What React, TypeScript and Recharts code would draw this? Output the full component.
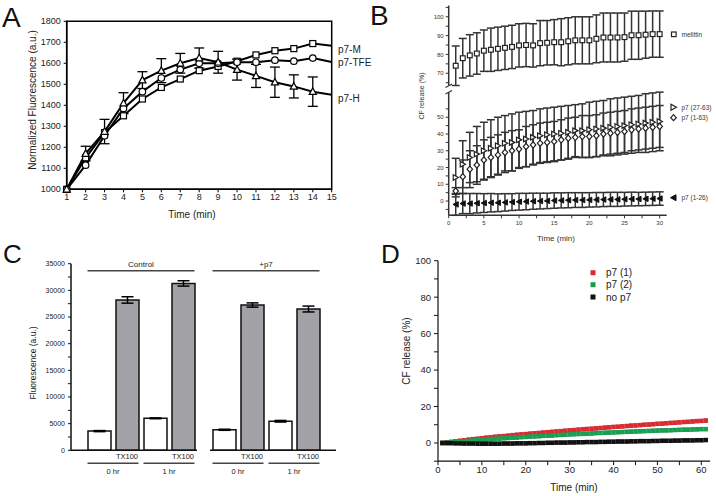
import React from 'react';
import {
  LineChart, Line, XAxis, YAxis, ErrorBar, ReferenceArea, BarChart, Bar, Cell, ReferenceLine,
} from 'recharts';

const FONT = '"Liberation Sans", Arial, Helvetica, sans-serif';

// ---------- Panel A ----------
const aTime = [1, 2, 3, 4, 5, 6, 7, 8, 9, 10, 11, 12, 13, 14, 15];
const aP7M = [1000, 1150, 1270, 1350, 1430, 1485, 1525, 1565, 1585, 1610, 1640, 1660, 1670, 1694, 1684];
const aP7TFE = [1000, 1115, 1255, 1385, 1465, 1530, 1570, 1600, 1600, 1605, 1605, 1615, 1610, 1625, 1606];
const aP7H = [1000, 1170, 1275, 1410, 1520, 1565, 1600, 1625, 1605, 1570, 1540, 1510, 1490, 1465, 1450];
const aP7HErr = [0, 35, 58, 50, 40, 57, 47, 48, 52, 50, 55, 72, 55, 70, 0];
const aYTicks = [1000, 1100, 1200, 1300, 1400, 1500, 1600, 1700, 1800];

// ---------- Panel B ----------
const bTime = [1, 2, 3, 4, 5, 6, 7, 8, 9, 10, 11, 12, 13, 14, 15, 16, 17, 18, 19, 20, 21, 22, 23, 24, 25, 26, 27, 28, 29, 30];
const bMelittin = [74, 78, 79.5, 80.5, 82, 82.5, 83, 83.5, 84, 84.8, 85, 84.8, 86, 86.2, 86.5, 86.5, 87, 87.5, 87.5, 87.5, 88.3, 89, 89, 89, 89.2, 90.2, 90.2, 90.5, 90.8, 90.8];
const bMelittinErr = [10.5, 10.5, 11, 11, 11, 11.5, 11.5, 11.5, 11.5, 11.5, 11.5, 11.5, 12, 11.8, 12, 12.5, 12.5, 12.5, 12.5, 12.5, 12.7, 13, 13, 13, 12.8, 12.8, 12.8, 12.5, 12.3, 12.3];
const bP7_27_63 = [14, 22, 26, 28, 30, 31.5, 33, 34.5, 35, 36.5, 37, 38, 39, 39.5, 40, 40.5, 41, 42, 42, 42.5, 43, 43.5, 44, 44.5, 45, 45.5, 46, 46.5, 47, 47.5];
const bP7_27_63Err = [11.5, 14, 15, 16.5, 17, 17, 17, 16.5, 17, 16.5, 16.5, 16, 16, 16, 16, 16, 16, 15.5, 16, 16.5, 16.5, 16.5, 17, 17, 17, 17, 17, 17.5, 17.5, 17.5];
const bP7_1_63 = [6, 14.5, 19, 21.5, 24.5, 26, 27.5, 29, 30, 31, 32.5, 33.5, 34.5, 35, 35.5, 36.5, 37.5, 38, 38.5, 38.5, 39, 40, 40.5, 41, 41.5, 42.5, 43, 43.5, 44, 44.5];
const bP7_1_63Err = [2, 10, 11, 11.5, 12, 12, 12, 12, 12, 11.5, 12, 12, 12, 12, 12, 12, 12, 12, 12.5, 12.5, 12.5, 12.5, 12.5, 12.5, 12.5, 12.5, 12.5, 12.5, 12.5, 12.5];
const bP7_1_26 = [-2, -1.5, -1.5, -1.3, -1.2, -1, -1, -0.8, -0.6, -0.4, -0.3, -0.1, 0, 0.1, 0.3, 0.4, 0.5, 0.6, 0.6, 0.7, 0.8, 0.9, 1, 1, 1.1, 1.2, 1.2, 1.3, 1.4, 1.5];
const bP7_1_26Err = [6.5, 6, 6, 5.8, 5.6, 5.5, 5.3, 5.2, 5, 5, 4.9, 4.8, 4.7, 4.6, 4.6, 4.5, 4.5, 4.4, 4.4, 4.3, 4.3, 4.2, 4.2, 4.2, 4.1, 4.1, 4, 4, 4, 4];
const bXTicks = [0, 2.5, 5, 7.5, 10, 12.5, 15, 17.5, 20, 22.5, 25, 27.5, 30];
const bUpperTicks = [65, 70, 75, 80, 85, 90, 95, 100, 105];
const bLowerTicks = [-5, 0, 5, 10, 15, 20, 25, 30, 35, 40, 45, 50, 55];

// ---------- Panel C ----------
const cCategories = ['0 hr', '0 hr TX100', '1 hr', '1 hr TX100'];
const cTreated = [false, true, false, true];
const cControl = [3600, 28200, 6000, 31300];
const cControlErr = [100, 600, 80, 500];
const cP7 = [3850, 27250, 5450, 26500];
const cP7Err = [100, 400, 150, 550];
const cYTicks = [0, 2500, 5000, 7500, 10000, 12500, 15000, 17500, 20000, 22500, 25000, 27500, 30000, 32500, 35000];

// ---------- Panel D ----------
const dTime = [1, 2, 3, 4, 5, 6, 7, 8, 9, 10, 11, 12, 13, 14, 15, 16, 17, 18, 19, 20, 21, 22, 23, 24, 25, 26, 27, 28, 29, 30, 31, 32, 33, 34, 35, 36, 37, 38, 39, 40, 41, 42, 43, 44, 45, 46, 47, 48, 49, 50, 51, 52, 53, 54, 55, 56, 57, 58, 59, 60, 61];
const dP7One = [0.0, 0.3, 0.6, 0.9, 1.2, 1.5, 1.8, 2.1, 2.3, 2.6, 2.9, 3.1, 3.4, 3.6, 3.8, 4.0, 4.3, 4.5, 4.7, 4.9, 5.1, 5.3, 5.5, 5.7, 5.9, 6.1, 6.3, 6.5, 6.7, 6.9, 7.1, 7.3, 7.5, 7.7, 7.8, 8.0, 8.2, 8.4, 8.6, 8.8, 8.9, 9.1, 9.3, 9.5, 9.6, 9.8, 10.0, 10.1, 10.3, 10.5, 10.6, 10.8, 11.0, 11.1, 11.3, 11.5, 11.6, 11.8, 12.0, 12.1, 12.3];
const dP7Two = [0.0, 0.2, 0.4, 0.6, 0.8, 1.0, 1.2, 1.4, 1.6, 1.8, 1.9, 2.1, 2.3, 2.4, 2.6, 2.7, 2.9, 3.0, 3.2, 3.3, 3.5, 3.6, 3.7, 3.9, 4.0, 4.1, 4.3, 4.4, 4.5, 4.7, 4.8, 4.9, 5.0, 5.1, 5.2, 5.4, 5.5, 5.6, 5.7, 5.8, 5.9, 6.0, 6.1, 6.2, 6.3, 6.4, 6.5, 6.6, 6.7, 6.8, 6.9, 6.9, 7.0, 7.1, 7.2, 7.3, 7.3, 7.4, 7.5, 7.6, 7.6];
const dNoP7 = [0.0, -0.1, -0.1, -0.2, -0.2, -0.3, -0.3, -0.3, -0.4, -0.4, -0.4, -0.4, -0.4, -0.4, -0.3, -0.3, -0.3, -0.2, -0.2, -0.2, -0.1, -0.1, 0.0, 0.0, 0.1, 0.1, 0.2, 0.2, 0.2, 0.3, 0.3, 0.4, 0.4, 0.5, 0.5, 0.5, 0.6, 0.6, 0.7, 0.7, 0.8, 0.8, 0.8, 0.9, 0.9, 1.0, 1.0, 1.0, 1.1, 1.1, 1.2, 1.2, 1.2, 1.3, 1.3, 1.4, 1.4, 1.4, 1.5, 1.5, 1.6];
const dErr = 0.8;
const dXTicks = [0, 5, 10, 15, 20, 25, 30, 35, 40, 45, 50, 55, 60];
const dYTicks = [-10, 0, 10, 20, 30, 40, 50, 60, 70, 80, 90, 100];

const RED = '#dc2a30';
const GREEN = '#17a052';

// ---------- rows ----------
const aRows = aTime.map((t, i) => ({ t, m: aP7M[i], tfe: aP7TFE[i], h: aP7H[i], hErr: aP7HErr[i] }));
const bRows = bTime.map((t, i) => ({
  t,
  mel: bMelittin[i], melErr: bMelittinErr[i],
  tri: bP7_27_63[i], triErr: bP7_27_63Err[i],
  dia: bP7_1_63[i], diaErr: bP7_1_63Err[i],
  lt: bP7_1_26[i], ltErr: bP7_1_26Err[i],
}));
const cLeftRows = cCategories.map((c, i) => ({ cat: c, v: cControl[i], err: cControlErr[i], tx: cTreated[i] }));
const cRightRows = cCategories.map((c, i) => ({ cat: c, v: cP7[i], err: cP7Err[i], tx: cTreated[i] }));
const dRows = dTime.map((t, i) => ({ t, a: dP7One[i], b: dP7Two[i], c: dNoP7[i], err: dErr }));

type Kind = 'square' | 'circle' | 'triUp' | 'triRight' | 'triLeft' | 'diamond';
const shapeDot = (kind: Kind, size: number, fill: string, stroke: string, sw: number, skipFrom?: number) => (props: any) => {
  const { cx, cy, index } = props;
  const key = `${kind}-${fill}-${index}`;
  if (cx == null || cy == null || (skipFrom != null && index >= skipFrom)) return <g key={key} />;
  const h = size / 2;
  const common = { fill, stroke, strokeWidth: sw };
  switch (kind) {
    case 'square':
      return <rect key={key} x={cx - h} y={cy - h} width={size} height={size} {...common} />;
    case 'circle':
      return <circle key={key} cx={cx} cy={cy} r={h} {...common} />;
    case 'triUp':
      return <polygon key={key} points={`${cx},${cy - h * 1.15} ${cx - h * 1.1},${cy + h * 0.85} ${cx + h * 1.1},${cy + h * 0.85}`} {...common} />;
    case 'triRight':
      return <polygon key={key} points={`${cx + h * 1.1},${cy} ${cx - h},${cy - h * 1.1} ${cx - h},${cy + h * 1.1}`} {...common} />;
    case 'triLeft':
      return <polygon key={key} points={`${cx - h * 1.1},${cy} ${cx + h},${cy - h * 1.1} ${cx + h},${cy + h * 1.1}`} {...common} />;
    case 'diamond':
    default:
      return <polygon key={key} points={`${cx},${cy - h * 1.15} ${cx + h},${cy} ${cx},${cy + h * 1.15} ${cx - h},${cy}`} {...common} />;
  }
};

const extendedLine = (ext: number) => (props: any) => {
  const { x1, y1, x2, y2 } = props;
  return <line x1={x1 - ext} y1={y1} x2={x2 + ext} y2={y2} stroke="#444" strokeWidth={1.6} />;
};

const abs = (left: number, top: number): React.CSSProperties => ({ position: 'absolute', left, top });

function PanelA() {
  const tick = { fill: '#222', fontSize: 9, fontFamily: FONT };
  return (
    <div style={abs(0, 0)}>
      <LineChart width={358} height={248} data={aRows} margin={{ top: 21.3, right: 26.3, bottom: 38.7, left: 0 }}>
        <ReferenceArea x1={1} x2={15} y1={1000} y2={1800} fill="none" stroke="#000" strokeWidth={1.5} ifOverflow="visible" />
        <XAxis type="number" dataKey="t" domain={[1, 15]} ticks={aTime} height={20} tick={tick} tickSize={3} tickMargin={1}
          axisLine={{ stroke: '#000', strokeWidth: 1.5 }} tickLine={{ stroke: '#000' }} interval={0} />
        <YAxis type="number" domain={[1000, 1800]} ticks={aYTicks} width={66.7} tick={tick} tickSize={3} tickMargin={3}
          axisLine={{ stroke: '#000', strokeWidth: 1.5 }} tickLine={{ stroke: '#000' }} interval={0} />
        <Line dataKey="m" stroke="#000" strokeWidth={2} isAnimationActive={false} dot={shapeDot('square', 6, '#fff', '#000', 1.2, 14)} />
        <Line dataKey="tfe" stroke="#000" strokeWidth={2} isAnimationActive={false} dot={shapeDot('circle', 6.5, '#fff', '#000', 1.2, 14)} />
        <Line dataKey="h" stroke="#000" strokeWidth={2} isAnimationActive={false} dot={shapeDot('triUp', 6.5, '#fff', '#000', 1.2, 14)}>
          <ErrorBar dataKey="hErr" width={5} strokeWidth={1.3} stroke="#000" direction="y" />
        </Line>
      </LineChart>
    </div>
  );
}

function PanelB() {
  const tick = { fill: '#333', fontSize: 6, fontFamily: FONT };
  const axisLine = { stroke: '#333', strokeWidth: 1.5 };
  const tickLine = { stroke: '#333', strokeWidth: 1 };
  const eb = { width: 4, strokeWidth: 1.5, stroke: '#333' };
  return (
    <>
      <div style={abs(358, 0)}>
        <LineChart width={358} height={248} data={bRows} margin={{ top: 5.5, right: 49.3, bottom: 162.5, left: 0 }}>
          <XAxis type="number" dataKey="t" domain={[0, 31]} hide />
          <YAxis type="number" domain={[65, 106]} ticks={bUpperTicks} width={90.7} tick={tick} tickSize={3} tickMargin={2}
            axisLine={axisLine} tickLine={tickLine} interval={0} tickFormatter={(v: number) => (v % 10 === 0 ? String(v) : '')} />
          <Line dataKey="mel" stroke="none" isAnimationActive={false} dot={shapeDot('square', 4.8, '#fff', '#222', 1.2)}>
            <ErrorBar dataKey="melErr" direction="y" {...eb} />
          </Line>
        </LineChart>
      </div>
      <div style={abs(358, 0)}>
        <LineChart width={358} height={248} data={bRows} margin={{ top: 92.1, right: 49.3, bottom: 0, left: 0 }}>
          <XAxis type="number" dataKey="t" domain={[0, 31]} ticks={bXTicks} height={32.7} tick={tick} tickSize={3} tickMargin={2}
            axisLine={axisLine} tickLine={tickLine} interval={0} tickFormatter={(v: number) => (v % 5 === 0 ? String(v) : '')} />
          <YAxis type="number" domain={[-7, 58]} ticks={bLowerTicks} width={90.7} tick={tick} tickSize={3} tickMargin={2}
            axisLine={axisLine} tickLine={tickLine} interval={0} tickFormatter={(v: number) => (v % 10 === 0 ? String(v) : '')} />
          <Line dataKey="tri" stroke="none" isAnimationActive={false} dot={shapeDot('triRight', 5, '#fff', '#222', 1.2)}>
            <ErrorBar dataKey="triErr" direction="y" {...eb} />
          </Line>
          <Line dataKey="dia" stroke="none" isAnimationActive={false} dot={shapeDot('diamond', 5.5, '#fff', '#222', 1.2)}>
            <ErrorBar dataKey="diaErr" direction="y" {...eb} />
          </Line>
          <Line dataKey="lt" stroke="none" isAnimationActive={false} dot={shapeDot('triLeft', 5, '#111', '#111', 1)}>
            <ErrorBar dataKey="ltErr" direction="y" {...eb} />
          </Line>
        </LineChart>
      </div>
    </>
  );
}

function PanelC() {
  const tick = { fill: '#222', fontSize: 7, fontFamily: FONT };
  const xTick = { fill: '#222', fontSize: 7.5, fontFamily: FONT };
  const axisLine = { stroke: '#111', strokeWidth: 1.5 };
  const lblTop = (value: string) => ({ value, position: 'top' as const, offset: 4, fontSize: 8, fill: '#222', fontFamily: FONT });
  const lblBottom = (value: string) => ({ value, position: 'bottom' as const, offset: 5, fontSize: 7.5, fill: '#222', fontFamily: FONT });
  const txFormatter = (v: string) => (v.indexOf('TX100') >= 0 ? 'TX100' : '');
  const bars = (rows: any[]) => (
    <Bar dataKey="v" barSize={23} stroke="#111" strokeWidth={1.5} isAnimationActive={false}>
      {rows.map((r, i) => <Cell key={i} fill={r.tx ? '#a3a3a7' : '#ffffff'} />)}
      <ErrorBar dataKey="err" width={6} strokeWidth={1.5} stroke="#000" direction="y" />
    </Bar>
  );
  const underlines = () => (
    <>
      <ReferenceLine segment={[{ x: '0 hr', y: -2440 }, { x: '0 hr TX100', y: -2440 }]} ifOverflow="visible"
        shape={extendedLine(11.5)} label={lblBottom('0 hr')} />
      <ReferenceLine segment={[{ x: '1 hr', y: -2440 }, { x: '1 hr TX100', y: -2440 }]} ifOverflow="visible"
        shape={extendedLine(11.5)} label={lblBottom('1 hr')} />
    </>
  );
  return (
    <>
      <div style={abs(0, 248)}>
        <BarChart width={358} height={248} data={cLeftRows} margin={{ top: 15.7, right: 161, bottom: 0, left: 0 }}>
          <XAxis dataKey="cat" type="category" height={45.7} padding={{ left: 14, right: 0 }} tick={xTick} tickSize={0} tickMargin={3}
            tickLine={false} axisLine={axisLine} interval={0} tickFormatter={txFormatter} />
          <YAxis type="number" domain={[0, 35000]} ticks={cYTicks} width={71} tick={tick} tickSize={3} tickMargin={3}
            axisLine={axisLine} tickLine={{ stroke: '#111' }} interval={0} tickFormatter={(v: number) => (v % 5000 === 0 ? String(v) : '')} />
          {bars(cLeftRows)}
          <ReferenceLine segment={[{ x: '0 hr', y: 33690 }, { x: '1 hr TX100', y: 33690 }]} ifOverflow="visible"
            shape={extendedLine(11.5)} label={lblTop('Control')} />
          {underlines()}
        </BarChart>
      </div>
      <div style={abs(0, 248)}>
        <BarChart width={358} height={248} data={cRightRows} margin={{ top: 15.7, right: 22, bottom: 0, left: 210 }}>
          <XAxis dataKey="cat" type="category" height={45.7} padding={{ left: 0, right: 14 }} tick={xTick} tickSize={0} tickMargin={3}
            tickLine={false} axisLine={axisLine} interval={0} tickFormatter={txFormatter} />
          <YAxis type="number" domain={[0, 35000]} hide />
          {bars(cRightRows)}
          <ReferenceLine segment={[{ x: '0 hr', y: 33690 }, { x: '1 hr TX100', y: 33690 }]} ifOverflow="visible"
            shape={extendedLine(11.5)} label={lblTop('+p7')} />
          {underlines()}
        </BarChart>
      </div>
    </>
  );
}

function PanelD() {
  const tick = { fill: '#222', fontSize: 9.5, fontFamily: FONT };
  const axisLine = { stroke: '#111', strokeWidth: 1.2 };
  const eb = { width: 2, strokeWidth: 0.8, stroke: '#111' };
  return (
    <div style={abs(358, 248)}>
      <LineChart width={358} height={248} data={dRows} margin={{ top: 12.7, right: 5.9, bottom: 0, left: 0 }}>
        <XAxis type="number" dataKey="t" domain={[0, 62]} ticks={dXTicks} height={34.8} tick={tick} tickSize={4} tickMargin={1}
          axisLine={axisLine} tickLine={{ stroke: '#111' }} interval={0} tickFormatter={(v: number) => (v % 10 === 0 ? String(v) : '')} />
        <YAxis type="number" domain={[-10, 100]} ticks={dYTicks} width={80} tick={tick} tickSize={4} tickMargin={3}
          axisLine={axisLine} tickLine={{ stroke: '#111' }} interval={0} tickFormatter={(v: number) => (v % 20 === 0 ? String(v) : '')} />
        <Line dataKey="a" stroke="none" isAnimationActive={false} dot={shapeDot('square', 4.5, RED, 'none', 0)}>
          <ErrorBar dataKey="err" direction="y" {...eb} />
        </Line>
        <Line dataKey="b" stroke="none" isAnimationActive={false} dot={shapeDot('square', 4.5, GREEN, 'none', 0)}>
          <ErrorBar dataKey="err" direction="y" {...eb} />
        </Line>
        <Line dataKey="c" stroke="none" isAnimationActive={false} dot={shapeDot('square', 4.5, '#111', 'none', 0)}>
          <ErrorBar dataKey="err" direction="y" {...eb} />
        </Line>
      </LineChart>
    </div>
  );
}

function Overlay() {
  const t = { fontFamily: FONT, fill: '#111' };
  return (
    <svg width={716} height={496} style={{ position: 'absolute', left: 0, top: 0, pointerEvents: 'none' }}>
      {/* panel letters */}
      <text x={2} y={27} fontSize={28} {...t}>A</text>
      <text x={370} y={25} fontSize={28} {...t}>B</text>
      <text x={3} y={263} fontSize={26} {...t}>C</text>
      <text x={381} y={263} fontSize={26} {...t}>D</text>

      {/* Panel A texts */}
      <text x={0} y={0} fontSize={10} textAnchor="middle" dominantBaseline="central" transform="translate(32,100) rotate(-90)" {...t} fill="#222">Normalized Fluorescence (a.u.)</text>
      <text x={192} y={217.5} fontSize={10} textAnchor="middle" {...t} fill="#222">Time (min)</text>
      <text x={338} y={52.5} fontSize={10} {...t} fill="#222">p7-M</text>
      <text x={338} y={66} fontSize={10} {...t} fill="#222">p7-TFE</text>
      <text x={338} y={101.5} fontSize={10} {...t} fill="#222">p7-H</text>

      {/* Panel B texts & key */}
      <text x={0} y={0} fontSize={7} textAnchor="middle" dominantBaseline="central" transform="translate(421,96) rotate(-90)" {...t} fill="#333">CF release (%)</text>
      <text x={556} y={241} fontSize={8} textAnchor="middle" {...t} fill="#333">Time (min)</text>
      <line x1={445.5} y1={87.5} x2={452} y2={84} stroke="#333" strokeWidth={1.2} />
      <line x1={445.5} y1={94} x2={452} y2={90.5} stroke="#333" strokeWidth={1.2} />
      <rect x={671.5} y={32} width={4.6} height={4.6} fill="#fff" stroke="#222" strokeWidth={1.2} />
      <text x={681.5} y={36.5} fontSize={6.5} {...t} fill="#333">melittin</text>
      <polygon points="676.5,107.3 671,104.3 671,110.3" fill="#fff" stroke="#222" strokeWidth={1.2} />
      <text x={681.5} y={109.8} fontSize={6.5} {...t} fill="#333">p7 (27-63)</text>
      <polygon points="673.5,114.7 676.3,117.7 673.5,120.7 670.7,117.7" fill="#fff" stroke="#222" strokeWidth={1.2} />
      <text x={681.5} y={120.2} fontSize={6.5} {...t} fill="#333">p7 (1-63)</text>
      <polygon points="670.5,197.7 676,194.7 676,200.7" fill="#111" stroke="#111" strokeWidth={1} />
      <text x={681.5} y={200.2} fontSize={6.5} {...t} fill="#333">p7 (1-26)</text>

      {/* Panel C texts */}
      <text x={0} y={0} fontSize={8.5} textAnchor="middle" dominantBaseline="central" transform="translate(33,363) rotate(-90)" {...t} fill="#222">Fluorescence (a.u.)</text>

      {/* Panel D texts & legend */}
      <text x={0} y={0} fontSize={10} textAnchor="middle" dominantBaseline="central" transform="translate(406,351) rotate(-90)" {...t} fill="#222">CF release (%)</text>
      <text x={574} y={490.5} fontSize={10} textAnchor="middle" {...t} fill="#222">Time (min)</text>
      <rect x={590.5} y={270.2} width={5} height={5} fill={RED} />
      <text x={606} y={276} fontSize={10} {...t} fill="#222">p7 (1)</text>
      <rect x={590.5} y={282.2} width={5} height={5} fill={GREEN} />
      <text x={606} y={288} fontSize={10} {...t} fill="#222">p7 (2)</text>
      <rect x={590.5} y={294.5} width={5} height={5} fill="#111" />
      <text x={606} y={300.5} fontSize={10} {...t} fill="#222">no p7</text>
    </svg>
  );
}

export default function App() {
  return (
    <div style={{ position: 'absolute', left: 0, top: 0, width: 716, height: 496, background: '#fff', overflow: 'hidden', fontFamily: FONT }}>
      <PanelA />
      <PanelB />
      <PanelC />
      <PanelD />
      <Overlay />
    </div>
  );
}
